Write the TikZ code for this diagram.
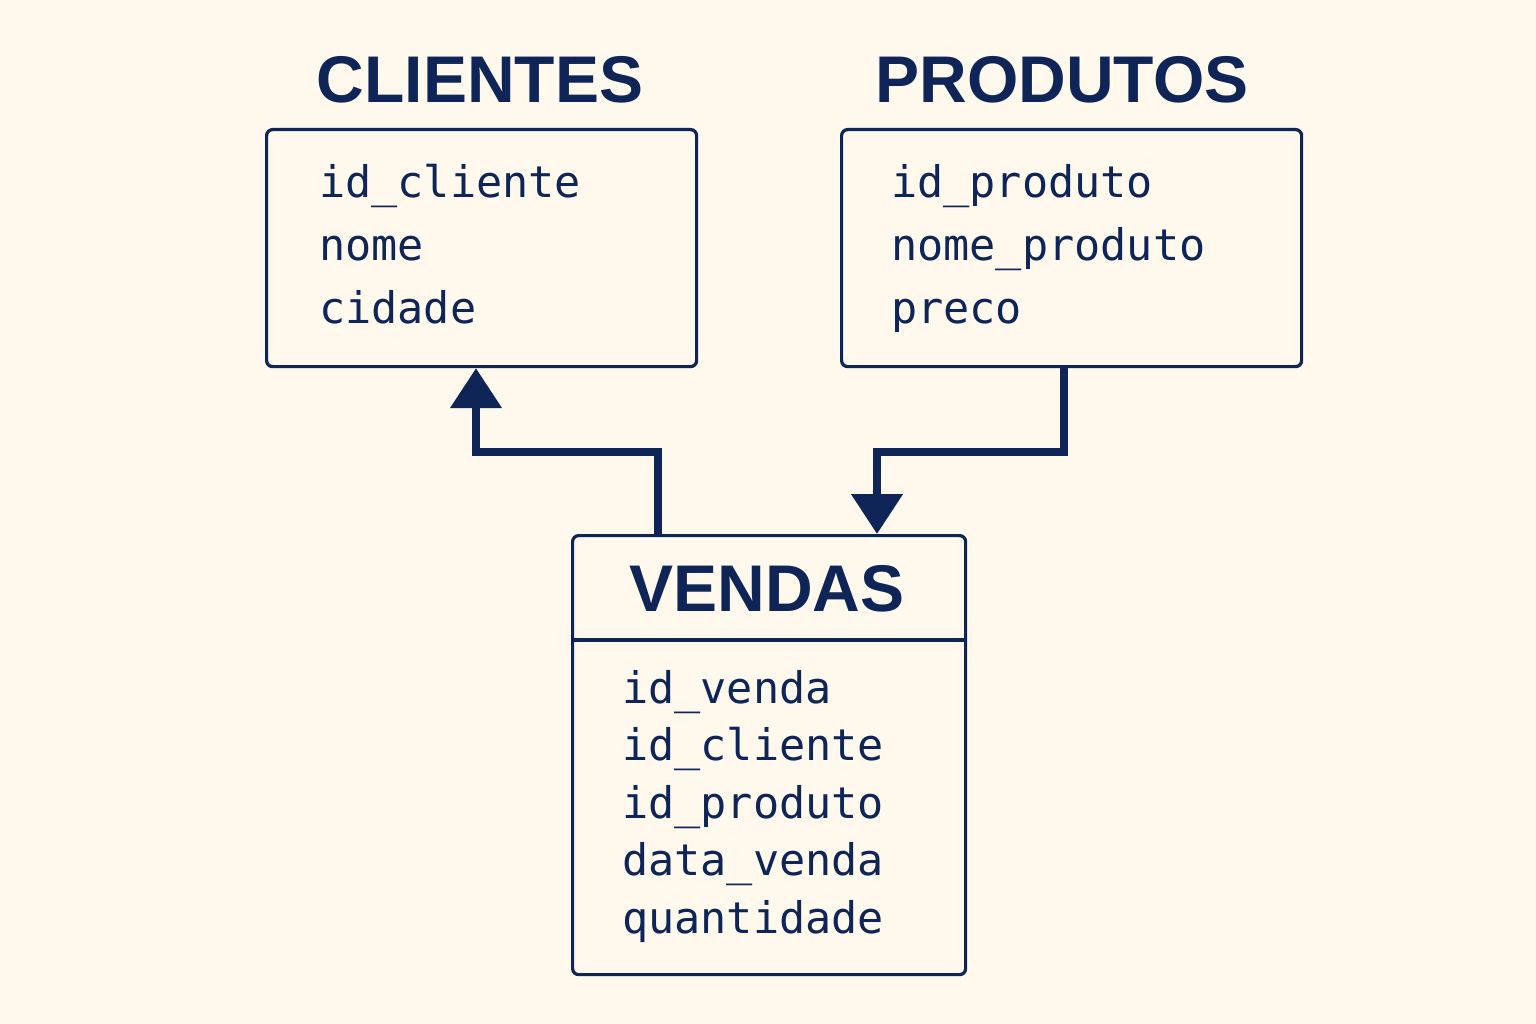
\documentclass[tikz,border=0pt]{standalone}
\usepackage{fontspec}
\setmainfont{DejaVu Sans}
\newfontfamily\titlefont{Liberation Sans}
\newfontfamily\monof{DejaVu Sans Mono}
\usetikzlibrary{arrows.meta}
\definecolor{bg}{HTML}{FEF9EC}
\definecolor{navy}{HTML}{0F2557}
\tikzset{x=1pt,y=-1pt,
 tbox/.style={draw=navy,line width=3.2pt,rounded corners=6pt,fill=bg,inner sep=0pt,anchor=north west},
 ttl/.style={text=navy,font=\titlefont\bfseries\fontsize{66}{66}\selectfont,inner sep=0pt},
 fld/.style={text=navy,font=\monof\fontsize{43.5}{63}\selectfont,align=left,anchor=north west,inner sep=0pt},
 conn/.style={draw=navy,line width=8pt,-{Triangle[length=40pt,width=50pt]}}}
\begin{document}
\begin{tikzpicture}
\useasboundingbox[fill=bg] (0,0) rectangle (1536,1024);
\node[tbox,minimum width=430pt,minimum height=237pt] (cli) at (265,128) {};
\node[tbox,minimum width=460pt,minimum height=237pt] (pro) at (840,128) {};
\node[tbox,minimum width=393pt,minimum height=439pt] (ven) at (571,534) {};
\draw[navy,line width=3.2pt] (ven.west |- 0,640) -- (ven.east |- 0,640);
\node[ttl] (tcli) at (480,80) {CLIENTES};
\node[ttl] (tpro) at (1062,80) {PRODUTOS};
\node[ttl] (tven) at (767,589) {VENDAS};
\node[fld] (fcli) at (319,164) {id\_cliente\\nome\\cidade};
\node[fld] (fpro) at (891,164) {id\_produto\\nome\_produto\\preco};
\node[fld,font=\monof\fontsize{43.5}{57.5}\selectfont] (fven) at (622,670) {id\_venda\\id\_cliente\\id\_produto\\data\_venda\\quantidade};
\coordinate (a1) at (658,452);
\coordinate (a2) at (476,452);
\coordinate (b1) at (1064,452);
\coordinate (b2) at (877,452);
\draw[conn] (ven.north -| a1) -- (a1) -- (a2) -- (cli.south -| a2);
\draw[conn] (pro.south -| b1) -- (b1) -- (b2) -- (ven.north -| b2);
\end{tikzpicture}
\end{document}
